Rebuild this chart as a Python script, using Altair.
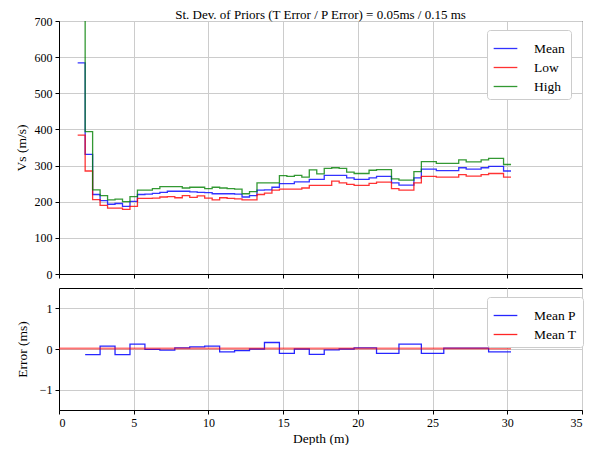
import altair as alt
import pandas as pd

FONT = "Liberation Serif"

# layer tops (m) plus final bottom of the last layer
depth = [1.25, 1.75, 2.25, 2.75, 3.25, 3.75, 4.25, 4.75, 5.25, 5.75,
         6.25, 6.75, 7.25, 7.75, 8.25, 8.75, 9.25, 9.75, 10.25, 10.75,
         11.25, 11.75, 12.25, 12.75, 13.25, 13.75, 14.25, 14.75, 15.25, 15.75,
         16.25, 16.75, 17.25, 17.75, 18.25, 18.75, 19.25, 19.75, 20.25, 20.75,
         21.25, 21.75, 22.25, 22.75, 23.25, 23.75, 24.25, 24.75, 25.25, 25.75,
         26.25, 26.75, 27.25, 27.75, 28.25, 28.75, 29.25, 29.75, 30.25]

vs_mean = [584, 331, 220, 203, 193, 195, 187, 201, 220, 221,
           223, 226, 229, 229, 229, 227, 226, 225, 222, 222,
           222, 221, 213, 217, 232, 233, 240, 250, 250, 255,
           255, 262, 262, 273, 273, 273, 266, 262, 262, 266,
           270, 270, 252, 246, 246, 266, 290, 290, 286, 286,
           286, 294, 290, 290, 294, 298, 298, 285]

vs_low = [384, 285, 206, 190, 182, 182, 179, 187, 209, 209,
          210, 213, 214, 211, 217, 212, 216, 210, 205, 211,
          209, 208, 205, 205, 220, 224, 232, 235, 235, 235,
          238, 245, 245, 245, 257, 252, 248, 245, 245, 251,
          254, 254, 236, 232, 232, 252, 270, 270, 268, 268,
          268, 275, 271, 271, 275, 278, 278, 268]

vs_high = [900, 394, 233, 217, 205, 207, 200, 214, 232, 232,
           236, 242, 242, 242, 238, 240, 240, 236, 240, 238,
           236, 235, 222, 228, 252, 252, 252, 272, 270, 273,
           268, 288, 277, 292, 294, 292, 282, 278, 278, 287,
           289, 289, 263, 260, 260, 283, 311, 311, 306, 306,
           306, 316, 310, 310, 316, 320, 320, 303]

p_depth = [1.75, 2.75, 3.75, 4.75, 5.75, 6.75, 7.75, 8.75, 9.75, 10.75,
           11.75, 12.75, 13.75, 14.75, 15.75, 16.75, 17.75, 18.75, 19.75, 21.25,
           22.75, 24.25, 25.75, 28.75, 30.25]
p_err = [-0.14, 0.07, -0.14, 0.12, -0.01, -0.03, 0.03, 0.05, 0.07, -0.07,
         -0.04, 0.0, 0.16, -0.11, 0.0, -0.13, -0.02, 0.0, 0.03, -0.11,
         0.12, -0.11, 0.02, -0.07]

t_depth = [0.0, 30.25]
t_err = [0.01]

vs_series = ["Mean", "Low", "High"]
vs_colors = ["blue", "red", "green"]
err_series = ["Mean P", "Mean T"]
err_colors = ["blue", "red"]

rows = []
for name, vals in zip(vs_series, [vs_mean, vs_low, vs_high]):
    vv = vals + [vals[-1]]
    for d, v in zip(depth, vv):
        rows.append({"depth": d, "vs": v, "series": name})
top_df = pd.DataFrame(rows)

rows = []
for name, dd, vals in [("Mean P", p_depth, p_err), ("Mean T", t_depth, t_err)]:
    vv = vals + [vals[-1]]
    for d, v in zip(dd, vv):
        rows.append({"depth": d, "err": v, "series": name})
bot_df = pd.DataFrame(rows)

xticks = [0, 5, 10, 15, 20, 25, 30, 35]
W = 523

def legend_for(x):
    return alt.Legend(title=None, orient="none", legendX=x, legendY=9,
                      symbolType="stroke", symbolSize=560, symbolStrokeWidth=1.3,
                      labelFont=FONT, labelFontSize=13.5, labelColor="black",
                      fillColor="white", strokeColor="#cccccc", cornerRadius=3,
                      padding=6, rowPadding=0, labelOffset=16)

top_color = alt.Color("series:N", scale=alt.Scale(domain=vs_series, range=vs_colors),
                      legend=legend_for(W - 95))

top_x = alt.X("depth:Q", scale=alt.Scale(domain=[0, 35], nice=False),
              axis=alt.Axis(values=xticks, labels=False, title=None))
top_y = alt.Y("vs:Q", scale=alt.Scale(domain=[0, 700], nice=False),
              axis=alt.Axis(values=[0, 100, 200, 300, 400, 500, 600, 700],
                            title="Vs (m/s)", titlePadding=6))

top_layers = []
for name in vs_series:
    top_layers.append(
        alt.Chart(top_df).transform_filter(alt.datum.series == name)
        .mark_line(interpolate="step-after", clip=True, strokeWidth=1.3, opacity=0.8)
        .encode(x=top_x, y=top_y, color=top_color)
    )

top = alt.layer(*top_layers).properties(
    width=W, height=253,
    title=alt.TitleParams("St. Dev. of Priors (T Error / P Error) = 0.05ms / 0.15 ms",
                          font=FONT, fontSize=13, fontWeight="normal", color="black",
                          anchor="middle", frame="group", offset=-7),
)

bot_color = alt.Color("series:N", scale=alt.Scale(domain=err_series, range=err_colors),
                      legend=legend_for(W - 95))
bot_x = alt.X("depth:Q", scale=alt.Scale(domain=[0, 35], nice=False),
              axis=alt.Axis(values=xticks, title="Depth (m)", titlePadding=3))
bot_y = alt.Y("err:Q", scale=alt.Scale(domain=[-1.5, 1.5], nice=False),
              axis=alt.Axis(values=[-1, 0, 1], title="Error (ms)", titlePadding=10))

bot_p = (alt.Chart(bot_df).transform_filter(alt.datum.series == "Mean P")
         .mark_line(interpolate="step-after", clip=True, strokeWidth=1.3, opacity=0.85)
         .encode(x=bot_x, y=bot_y, color=bot_color))
bot_t = (alt.Chart(bot_df).transform_filter(alt.datum.series == "Mean T")
         .mark_line(interpolate="step-after", clip=True, strokeWidth=2, opacity=0.55)
         .encode(x=bot_x, y=bot_y, color=bot_color))

bottom = alt.layer(bot_p, bot_t).properties(width=W, height=122)

chart = (
    alt.vconcat(top, bottom, spacing=6)
    .resolve_scale(color="independent")
    .properties(padding={"left": 5, "top": 0, "right": 5, "bottom": 0}, background="white")
    .configure_view(stroke="black", strokeWidth=1)
    .configure_axis(
        domainColor="black", tickColor="black", tickSize=4, labelColor="black",
        titleColor="black", labelFont=FONT, titleFont=FONT, labelFontSize=12,
        titleFontSize=13.5, titleFontWeight="normal", labelPadding=3,
        gridColor="#cccccc", gridWidth=1,
    )
)

chart.save("out.html", embed_options={"renderer": "svg", "actions": False})
